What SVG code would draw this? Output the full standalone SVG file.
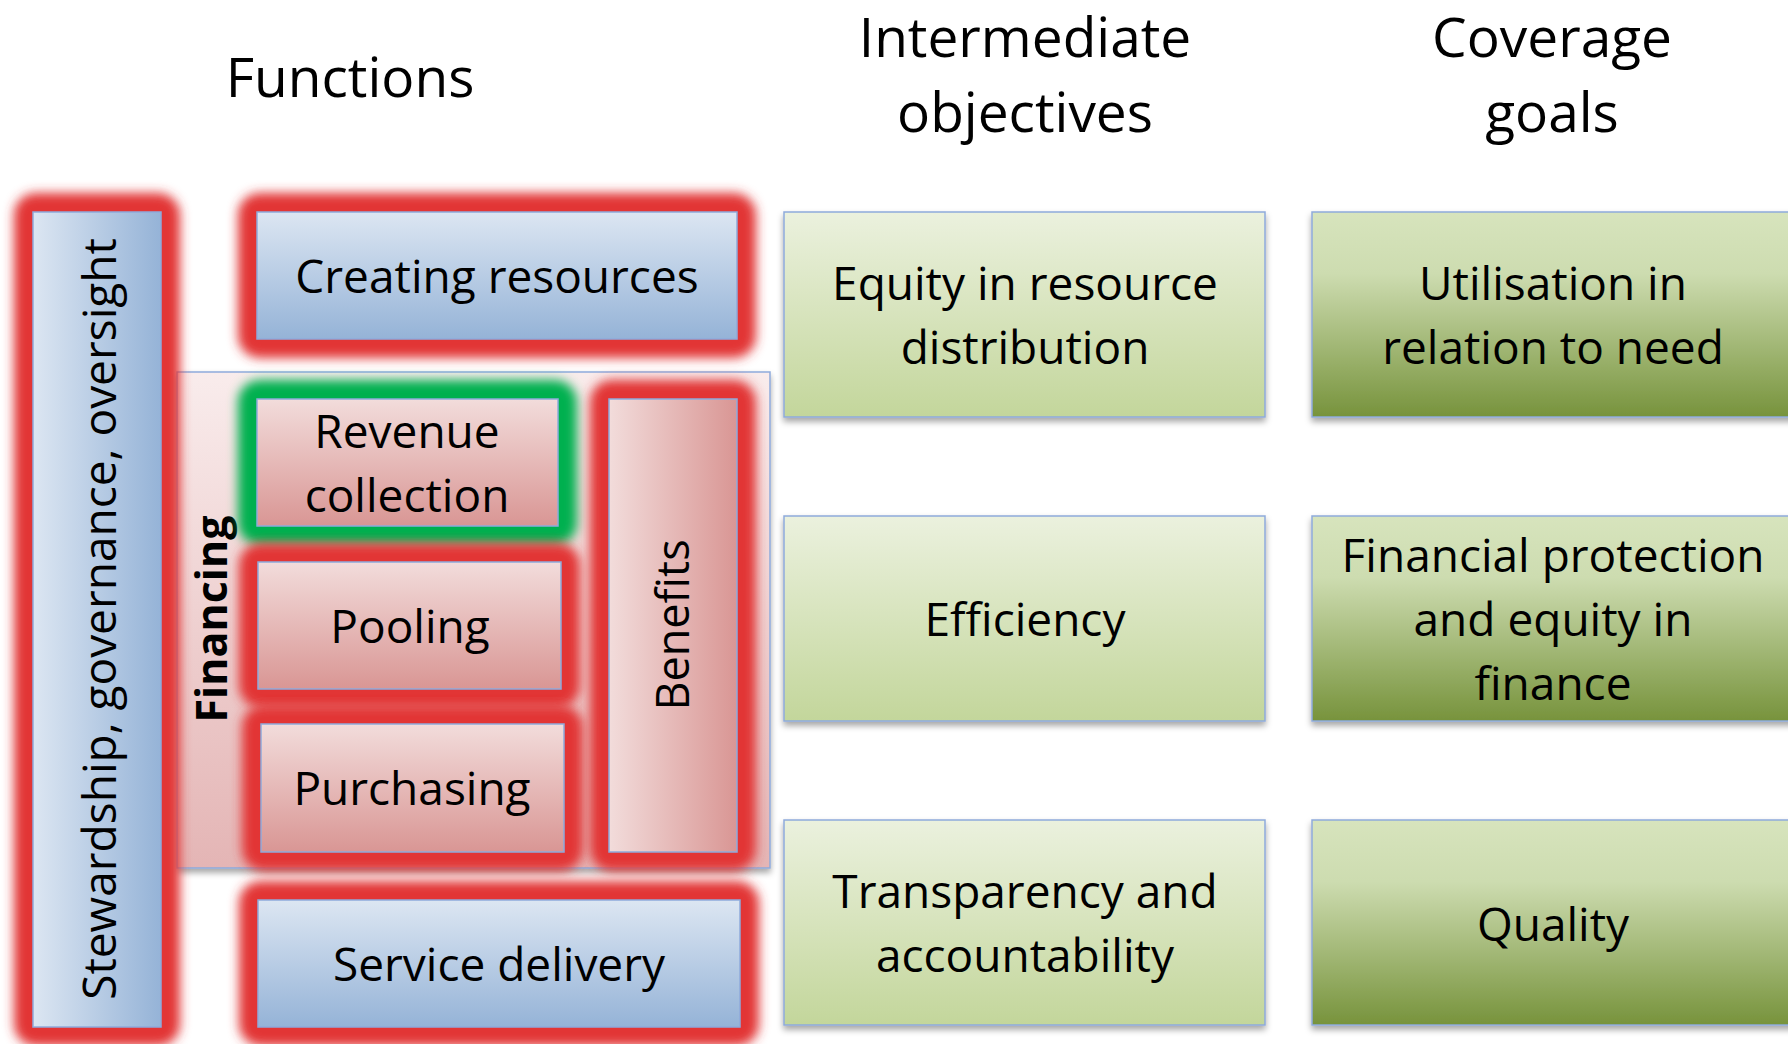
<svg xmlns="http://www.w3.org/2000/svg" width="1788" height="1044" viewBox="0 0 1788 1044">
<defs>
<style>
text{font-family:"Open Sans","Liberation Sans",sans-serif;fill:#000;text-anchor:middle}
.hd{font-size:55px}
.tx{font-size:46px}
.fin{font-size:43px;font-weight:bold}
.edge{stroke:#8eaadb;stroke-width:1.5}
.glowR{fill:#e23535;filter:url(#blur)}
.glowG{fill:#00b050;filter:url(#blur)}
.blueV{fill:url(#gBlueV)}
.blueH{fill:url(#gBlueH)}
.pinkV{fill:url(#gPinkV)}
.pinkH{fill:url(#gPinkH)}
.io{fill:url(#gLight);filter:url(#shadow)}
.cg{fill:url(#gDark);filter:url(#shadow)}
</style>
<filter id="blur" x="-30%" y="-30%" width="160%" height="160%"><feGaussianBlur stdDeviation="5.5"/></filter>
<filter id="shadow" x="-10%" y="-10%" width="120%" height="130%"><feDropShadow dx="0" dy="4" stdDeviation="3" flood-color="#000" flood-opacity="0.35"/></filter>
<linearGradient id="gBlueV" x1="0" y1="0" x2="0" y2="1"><stop offset="0" stop-color="#dce6f2"/><stop offset="1" stop-color="#95b3d7"/></linearGradient>
<linearGradient id="gBlueH" x1="0" y1="0" x2="1" y2="0"><stop offset="0" stop-color="#dce6f2"/><stop offset="1" stop-color="#95b3d7"/></linearGradient>
<linearGradient id="gPinkV" x1="0" y1="0" x2="0" y2="1"><stop offset="0" stop-color="#f2dcdb"/><stop offset="1" stop-color="#d99694"/></linearGradient>
<linearGradient id="gPinkH" x1="0" y1="0" x2="1" y2="0"><stop offset="0" stop-color="#f2dcdb"/><stop offset="1" stop-color="#d99694"/></linearGradient>
<linearGradient id="gFin" x1="0" y1="0" x2="0" y2="1"><stop offset="0" stop-color="#f9ecec"/><stop offset="1" stop-color="#e4b5b5"/></linearGradient>
<linearGradient id="gLight" x1="0" y1="0" x2="0" y2="1"><stop offset="0" stop-color="#ebf1de"/><stop offset="1" stop-color="#c3d69b"/></linearGradient>
<linearGradient id="gDark" x1="0" y1="0" x2="0" y2="1"><stop offset="0" stop-color="#d7e4bd"/><stop offset="0.3" stop-color="#cddcb0"/><stop offset="1" stop-color="#77933c"/></linearGradient>
</defs>
<rect width="1788" height="1044" fill="#fff"/>

<g id="headers">
<text class="hd" x="350" y="97">Functions</text>
<text class="hd" x="1025" y="57">Intermediate</text>
<text class="hd" x="1025" y="132">objectives</text>
<text class="hd" x="1552" y="57">Coverage</text>
<text class="hd" x="1552" y="132">goals</text>
</g>

<g id="financing">
<rect x="177" y="372" width="593" height="496" fill="url(#gFin)" class="edge" filter="url(#shadow)"/>
<text class="fin" transform="translate(227,619) rotate(-90)">Financing</text>
</g>

<g id="glows">
<rect class="glowR" x="14" y="193" width="166" height="853" rx="22"/>
<rect class="glowR" x="238" y="193" width="518" height="165" rx="22"/>
<rect class="glowG" x="238" y="380" width="339" height="165" rx="22"/>
<rect class="glowR" x="239" y="543" width="341" height="165" rx="22"/>
<rect class="glowR" x="242" y="705" width="341" height="166" rx="22"/>
<rect class="glowR" x="590" y="380" width="166" height="491" rx="22"/>
<rect class="glowR" x="239" y="881" width="520" height="165" rx="22"/>
</g>

<g id="stewardship">
<rect class="blueH edge" x="33" y="212" width="128" height="815"/>
<text class="tx" transform="translate(116,619) rotate(-90)">Stewardship, governance, oversight</text>
</g>

<g id="creating-resources">
<rect class="blueV edge" x="257" y="212" width="480" height="127"/>
<text class="tx" x="497" y="293">Creating resources</text>
</g>

<g id="revenue-collection">
<rect class="pinkV edge" x="257" y="399" width="301" height="127"/>
<text class="tx" x="407" y="448">Revenue</text>
<text class="tx" x="407" y="512">collection</text>
</g>

<g id="pooling">
<rect class="pinkV edge" x="258" y="562" width="303" height="127"/>
<text class="tx" x="410" y="643">Pooling</text>
</g>

<g id="purchasing">
<rect class="pinkV edge" x="261" y="724" width="303" height="128"/>
<text class="tx" x="412" y="805">Purchasing</text>
</g>

<g id="benefits">
<rect class="pinkH edge" x="609" y="399" width="128" height="453"/>
<text class="tx" style="font-size:45px" transform="translate(689,625) rotate(-90)">Benefits</text>
</g>

<g id="service-delivery">
<rect class="blueV edge" x="258" y="900" width="482" height="127"/>
<text class="tx" x="499" y="981">Service delivery</text>
</g>

<g id="equity-resource">
<rect class="io edge" x="784" y="212" width="481" height="205"/>
<text class="tx" x="1025" y="300">Equity in resource</text>
<text class="tx" x="1025" y="364">distribution</text>
</g>

<g id="efficiency">
<rect class="io edge" x="784" y="516" width="481" height="205"/>
<text class="tx" x="1025" y="636">Efficiency</text>
</g>

<g id="transparency">
<rect class="io edge" x="784" y="820" width="481" height="205"/>
<text class="tx" x="1025" y="908">Transparency and</text>
<text class="tx" x="1025" y="972">accountability</text>
</g>

<g id="utilisation">
<rect class="cg edge" x="1312" y="212" width="500" height="205"/>
<text class="tx" x="1553" y="300">Utilisation in</text>
<text class="tx" x="1553" y="364">relation to need</text>
</g>

<g id="financial-protection">
<rect class="cg edge" x="1312" y="516" width="500" height="205"/>
<text class="tx" x="1553" y="572">Financial protection</text>
<text class="tx" x="1553" y="636">and equity in</text>
<text class="tx" x="1553" y="700">finance</text>
</g>

<g id="quality">
<rect class="cg edge" x="1312" y="820" width="500" height="205"/>
<text class="tx" x="1553" y="941">Quality</text>
</g>

<g id="connectors"/>
</svg>
